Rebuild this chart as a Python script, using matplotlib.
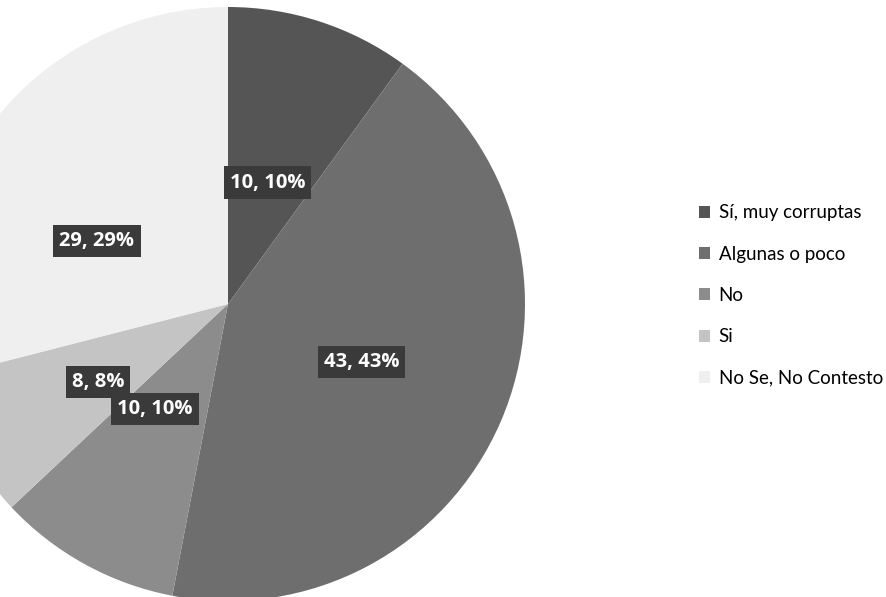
import matplotlib.pyplot as plt
import numpy as np

plt.rcParams["font.family"] = ["Lato", "DejaVu Sans"]

categorias = ['Sí, muy corruptas', 'Algunas o poco', 'No', 'Si', 'No Se, No Contesto']
valores = [10, 43, 10, 8, 29]
colores = ['#555555', '#6e6e6e', '#8c8c8c', '#c4c4c4', '#efefef']
# distance of each data label from the centre (fraction of radius) and angle nudge
dist_etiqueta = [0.43, 0.49, 0.43, 0.51, 0.49]
giro_etiqueta = [0, 0, -6, 2, 12]

fig = plt.figure(figsize=(8.86, 5.97), dpi=100)
ax = fig.add_axes([0, 0, 1, 1])

cx, cy, r = 228, 293, 297
wedges, _ = ax.pie(valores, colors=colores, startangle=90, counterclock=False,
                   center=(cx, cy), radius=r, frame=True,
                   wedgeprops=dict(linewidth=0))
ax.set_xlim(0, 886)
ax.set_ylim(0, 597)
ax.set_aspect('equal')
ax.axis('off')

total = sum(valores)
for w, v, d, g in zip(wedges, valores, dist_etiqueta, giro_etiqueta):
    ang = np.deg2rad((w.theta1 + w.theta2) / 2 + g)
    x = cx + d * r * np.cos(ang)
    y = cy + d * r * np.sin(ang)
    ax.text(x, y, f'{v}, {round(100 * v / total)}%', ha='center', va='center',
            color='white', fontsize=14.5, fontweight='bold',
            family=['Open Sans', 'DejaVu Sans'],
            bbox=dict(boxstyle='square,pad=0.3', fc='#3a3a3a', ec='none'))

ax.legend(wedges, categorias, loc='center left', bbox_to_anchor=(0.789, 0.505),
          frameon=False, fontsize=13.5, handlelength=0.6, handleheight=0.6,
          handletextpad=0.45, labelspacing=1.3, borderpad=0, borderaxespad=0)

fig.savefig('out.png', dpi=100)
